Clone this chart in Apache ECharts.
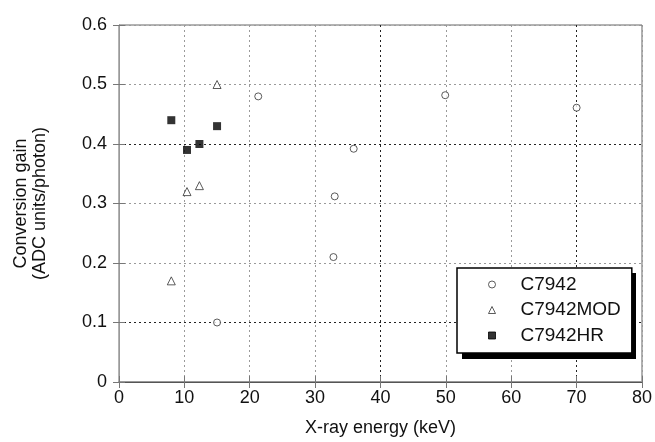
<!DOCTYPE html>
<html>
<head>
<meta charset="utf-8">
<script src="https://cdn.jsdelivr.net/npm/echarts@6/dist/echarts.min.js"></script>
<style>html,body{margin:0;padding:0;background:#fff;}#c{width:655px;height:442px;}</style>
</head>
<body>
<div id="c"></div>
<script>
// Data
var c7942X = [15, 21.3, 32.8, 33, 35.9, 49.9, 70];
var c7942Y = [0.10, 0.48, 0.21, 0.312, 0.392, 0.482, 0.461];
var modX = [8, 10.4, 12.3, 15];
var modY = [0.17, 0.32, 0.33, 0.50];
var hrX = [8, 10.4, 12.3, 15];
var hrY = [0.44, 0.39, 0.40, 0.43];
var seriesNames = ['C7942', 'C7942MOD', 'C7942HR'];
var xTicks = [0, 10, 20, 30, 40, 50, 60, 70, 80];
var yTicks = [0, 0.1, 0.2, 0.3, 0.4, 0.5, 0.6];

function pairs(xs, ys) { return xs.map(function (x, i) { return [x, ys[i]]; }); }

var FONT = "'Liberation Sans', Arial, sans-serif";
var G = '#9a9a9a', K = '#222';
var chart = echarts.init(document.getElementById('c'));
var tickStyle = { show: true, inside: true, length: 6, lineStyle: { color: '#777', width: 1 } };
chart.setOption({
  animation: false,
  backgroundColor: '#fff',
  grid: { left: 119, right: 10, top: 25, bottom: 59, show: true, borderColor: '#666', borderWidth: 1 },
  xAxis: [{
    type: 'value', min: xTicks[0], max: xTicks[xTicks.length - 1], interval: 10,
    name: 'X-ray energy (keV)', nameLocation: 'middle', nameGap: 37,
    nameTextStyle: { fontFamily: FONT, fontSize: 18, color: '#111' },
    axisLine: { show: true, lineStyle: { color: '#999', width: 2 } },
    axisTick: tickStyle,
    axisLabel: { fontFamily: FONT, fontSize: 18, color: '#111', margin: 7 },
    splitLine: { show: true, lineStyle: { type: [2, 3], width: 1,
      color: [G, G, G, G, K, G, G, K, G] } }
  }, {
    type: 'value', position: 'top', min: xTicks[0], max: xTicks[xTicks.length - 1], interval: 10,
    axisLine: { show: true, lineStyle: { color: '#555' } },
    axisTick: tickStyle, axisLabel: { show: false }, splitLine: { show: false }
  }],
  yAxis: [{
    type: 'value', min: yTicks[0], max: yTicks[yTicks.length - 1], interval: 0.1,
    name: 'Conversion gain\n(ADC units/photon)', nameLocation: 'middle', nameGap: 69,
    nameTextStyle: { fontFamily: FONT, fontSize: 18, color: '#111', lineHeight: 19 },
    axisLine: { show: true, lineStyle: { color: '#888', width: 1 } },
    axisTick: tickStyle,
    axisLabel: { fontFamily: FONT, fontSize: 18, color: '#111', margin: 12,
      formatter: function (v) { return v === 0 ? '0' : v.toFixed(1); } },
    splitLine: { show: true, lineStyle: { type: [2, 3], width: 1,
      color: [G, K, G, G, K, G, G] } }
  }, {
    type: 'value', position: 'right', min: yTicks[0], max: yTicks[yTicks.length - 1], interval: 0.1,
    axisLine: { show: true, lineStyle: { color: '#999' } },
    axisTick: tickStyle, axisLabel: { show: false }, splitLine: { show: false }
  }],
  graphic: [{
    type: 'rect', z: 3, silent: true,
    shape: { x: 462, y: 273, width: 174, height: 86 },
    style: { fill: '#000' }
  }],
  legend: {
    orient: 'vertical', left: 457, top: 268, z: 5,
    padding: [7, 11, 8, 31], itemGap: 6.5,
    itemWidth: 7, itemHeight: 7,
    itemStyle: { borderWidth: 1 },
    backgroundColor: '#fff', borderColor: '#000', borderWidth: 1.5, borderRadius: 0,
    textStyle: { fontFamily: FONT, fontSize: 19, color: '#111', padding: [0, 0, 0, 20] },
    data: seriesNames
  },
  series: [{
    name: seriesNames[0], type: 'scatter', symbol: 'circle', symbolSize: 7,
    itemStyle: { color: '#fff', borderColor: '#333', borderWidth: 1 },
    data: pairs(c7942X, c7942Y)
  }, {
    name: seriesNames[1], type: 'scatter', symbol: 'triangle', symbolSize: 8,
    itemStyle: { color: '#fff', borderColor: '#333', borderWidth: 1 },
    data: pairs(modX, modY)
  }, {
    name: seriesNames[2], type: 'scatter', symbol: 'rect', symbolSize: 8,
    itemStyle: { color: '#000', borderColor: '#000', borderWidth: 0 },
    data: pairs(hrX, hrY)
  }]
});
</script>
</body>
</html>
